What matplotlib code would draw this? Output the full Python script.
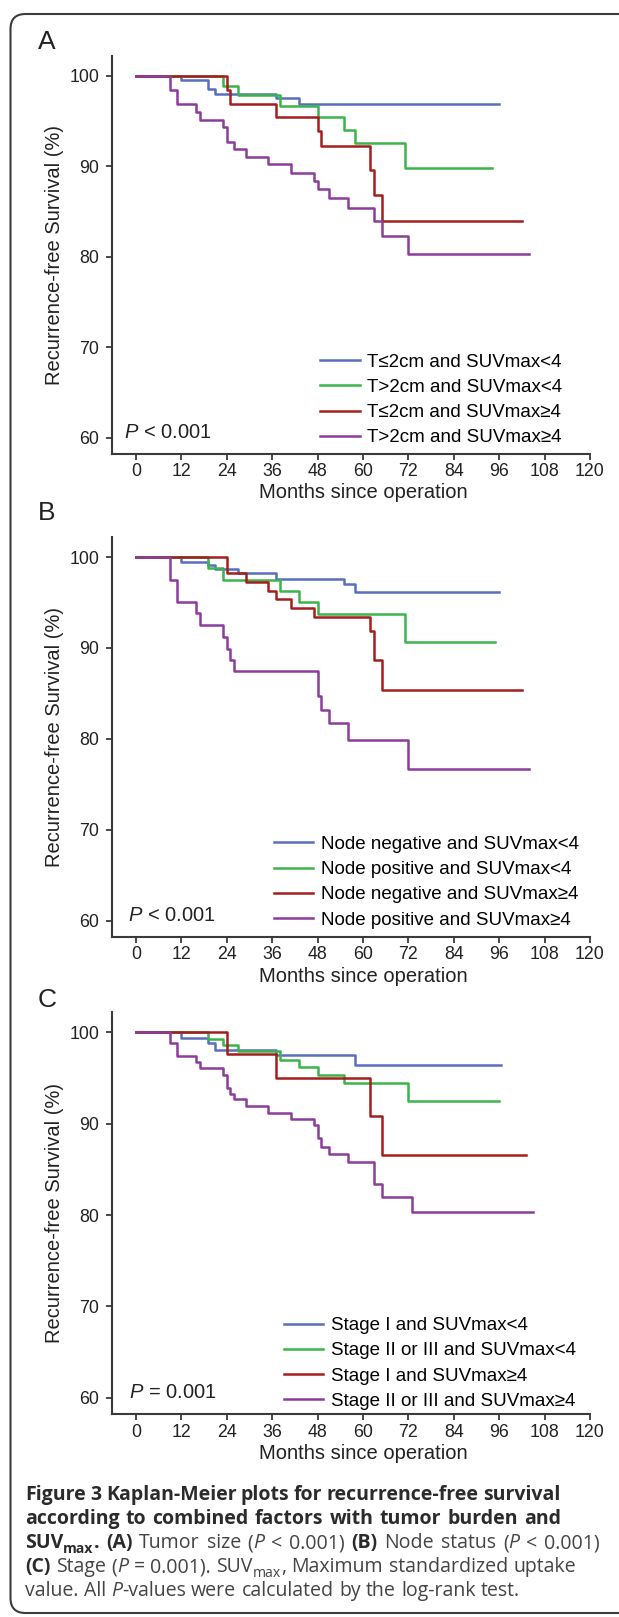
# Kaplan-Meier plots (Figure 3) - recurrence-free survival by combined factors
import re
import matplotlib
matplotlib.use("Agg")
import matplotlib.pyplot as plt
from matplotlib.patches import FancyBboxPatch

plt.rcParams['font.family'] = ['Liberation Sans', 'DejaVu Sans']
plt.rcParams['mathtext.fontset'] = 'custom'
plt.rcParams['mathtext.rm'] = 'Liberation Sans'
plt.rcParams['mathtext.it'] = 'Liberation Sans:italic'

# ---- data (months, survival %) ----
cores = ['#5A6EBE', '#3CB44B', '#A51E1E', '#8C3C9A']

# painel A: tumor size
a_labels = ['T≤2cm and SUVmax<4', 'T>2cm and SUVmax<4',
            'T≤2cm and SUVmax≥4', 'T>2cm and SUVmax≥4']
a_t = [[0, 12, 19, 21, 37, 43],
       [0, 23, 27, 38, 48, 55, 58, 71],
       [0, 24, 25, 37, 48, 49, 62, 63, 65],
       [0, 9, 11, 16, 17, 23, 24, 26, 29, 35, 41, 47, 48, 51, 56, 63, 65, 72]]
a_s = [[100, 99.5, 98.5, 98.0, 97.5, 96.9],
       [100, 98.9, 97.9, 96.7, 95.4, 94.0, 92.6, 89.8],
       [100, 98.4, 96.9, 95.4, 93.9, 92.2, 89.6, 86.8, 84.0],
       [100, 98.4, 96.9, 96.0, 95.1, 94.3, 92.7, 91.9, 91.0, 90.2, 89.3, 88.4, 87.5,
        86.5, 85.4, 83.9, 82.3, 80.3]]
a_fim = [96, 94, 102, 104]

# painel B: node status
b_labels = ['Node negative and SUVmax<4', 'Node positive and SUVmax<4',
            'Node negative and SUVmax≥4', 'Node positive and SUVmax≥4']
b_t = [[0, 12, 19, 21, 27, 37, 55, 58],
       [0, 19, 23, 38, 43, 48, 71],
       [0, 24, 29, 35, 37, 41, 47, 62, 63, 65],
       [0, 9, 11, 16, 17, 23, 24, 25, 26, 48, 49, 51, 56, 72]]
b_s = [[100, 99.5, 99.1, 98.7, 98.2, 97.6, 97.0, 96.2],
       [100, 98.8, 97.5, 96.3, 95.0, 93.7, 90.6],
       [100, 98.2, 97.3, 96.3, 95.4, 94.4, 93.4, 91.9, 88.7, 85.4],
       [100, 97.5, 95.0, 93.8, 92.5, 91.2, 89.9, 88.7, 87.5, 84.7, 83.2, 81.7, 79.9, 76.7]]
b_fim = [96, 95, 102, 104]

# painel C: stage
c_labels = ['Stage I and SUVmax<4', 'Stage II or III and SUVmax<4',
            'Stage I and SUVmax≥4', 'Stage II or III and SUVmax≥4']
c_t = [[0, 12, 19, 21, 37, 58],
       [0, 19, 23, 27, 38, 43, 48, 55, 72],
       [0, 24, 37, 62, 65],
       [0, 9, 11, 16, 17, 23, 24, 25, 26, 29, 35, 41, 47, 48, 49, 51, 56, 63, 65, 73]]
c_s = [[100, 99.4, 98.8, 98.1, 97.5, 96.4],
       [100, 99.3, 98.6, 97.9, 97.0, 96.2, 95.3, 94.4, 92.5],
       [100, 97.6, 95.0, 90.8, 86.6],
       [100, 98.8, 97.4, 96.8, 96.1, 95.3, 93.9, 93.3, 92.7, 91.9, 91.2, 90.5, 89.9,
        88.4, 87.5, 86.7, 85.8, 83.4, 82.0, 80.3]]
c_fim = [96.5, 96, 103, 105]

p_textos = ['$P$ < 0.001', '$P$ < 0.001', '$P$ = 0.001']
letras = ['A', 'B', 'C']

# ---- figure ----
W, H = 619, 1617
fig = plt.figure(figsize=(W / 100, H / 100), dpi=100)

# (top px, bottom px) of each axes box, legend anchor, P-text x
paineis = [
    (a_labels, a_t, a_s, a_fim, 55.8, 454.0, 0.436, 0.019, -3.0),
    (b_labels, b_t, b_s, b_fim, 537.0, 937.0, 0.339, 0.021, -2.0),
    (c_labels, c_t, c_s, c_fim, 1012.2, 1414.2, 0.360, 0.011, -1.8),
]
letra_y = [41.7, 513, 1000]
cor_eixo = '#3a3a3a'

for i, (labels, tt, ss, fim, topo, base, lx, ly, px) in enumerate(paineis):
    ax = fig.add_axes([112 / W, 1 - base / H, (590 - 112) / W, (base - topo) / H])
    for t, s, f, c, lab in zip(tt, ss, fim, cores, labels):
        ax.step(t + [f], s + [s[-1]], where='post', color=c, lw=1.8, label=lab)
    ax.set_xlim(-6.3, 120)
    ax.set_ylim(58.2, 102.2)
    ax.set_xticks(range(0, 121, 12))
    ax.set_yticks(range(60, 101, 10))
    for sp in ['top', 'right']:
        ax.spines[sp].set_visible(False)
    for sp in ['left', 'bottom']:
        ax.spines[sp].set_color(cor_eixo)
        ax.spines[sp].set_linewidth(1.5)
    ax.tick_params(direction='out', length=4.3, width=1.3, color=cor_eixo,
                   labelsize=12.8, labelcolor='#222222')
    ax.tick_params(axis='x', pad=2.5)
    ax.tick_params(axis='y', pad=5)
    ax.set_ylabel('Recurrence-free Survival (%)', fontsize=14.5, color='#222222')
    ax.yaxis.set_label_coords(-0.10, 0.5)
    ax.set_xlabel('Months since operation', fontsize=14.5, color='#222222')
    ax.xaxis.set_label_coords(0.525, -0.074)
    ax.text(px, 60.6, p_textos[i], fontsize=14.5, va='center', ha='left', color='#222222')
    ax.legend(loc='lower left', bbox_to_anchor=(lx, ly), frameon=False, fontsize=13.5,
              handlelength=2.1, handletextpad=0.4, labelspacing=0.43,
              borderpad=0, borderaxespad=0)
    fig.text(46.7 / W, 1 - letra_y[i] / H, letras[i], fontsize=19, ha='center',
             va='center', color='#222222')

# ---- moldura ----
moldura = FancyBboxPatch((0.105, 0.04), 7.0, 15.99, boxstyle='round,pad=0,rounding_size=0.15',
                         transform=fig.dpi_scale_trans, fill=False, ec='#3c3c3c', lw=1.5)
fig.patches.append(moldura)

# ---- legenda da figura (justificada) ----
legenda_linhas = [
    "{b:Figure 3 Kaplan-Meier plots for recurrence-free survival}",
    "{b:according to combined factors with tumor burden and}",
    "{b:SUV}{S:max}{b:.} {b:(A)} Tumor size ({i:P} < 0.001) {b:(B)} Node status ({i:P} < 0.001)",
    "{b:(C)} Stage ({i:P} = 0.001). SUV{s:max}, Maximum standardized uptake",
    "value. All {i:P}-values were calculated by the log-rank test.",
]
limite_dir = [560.7, 560.7, 600, 576, None]
x_ini = 25
y_base0 = 1500
passo = 24
largura_ultima = 495  # largura natural da ultima linha no original


def separar(linha):
    runs = []
    pos = 0
    for m in re.finditer(r'\{(\w):([^}]*)\}', linha):
        if m.start() > pos:
            runs.append((linha[pos:m.start()], 'n'))
        runs.append((m.group(2), m.group(1)))
        pos = m.end()
    if pos < len(linha):
        runs.append((linha[pos:], 'n'))
    palavras = [[]]
    for txt, st in runs:
        partes = txt.split(' ')
        for k, p in enumerate(partes):
            if k > 0:
                palavras.append([])
            if p:
                palavras[-1].append((p, st))
    return [w for w in palavras if w]


def estilo(st, fs):
    d = dict(fontfamily=['Open Sans', 'DejaVu Sans'], fontsize=fs,
             color='#2b2b2b' if st in ('b', 'S') else '#444444')
    if st in ('b', 'S'):
        d['fontweight'] = 'bold'
    if st == 'i':
        d['fontstyle'] = 'italic'
    if st in ('s', 'S'):
        d['fontsize'] = fs * 0.72
    return d


renderer = fig.canvas.get_renderer()


def medir_palavras(palavras, fs, yb):
    fs_px = fs * 100 / 72
    objs, larguras = [], []
    for w in palavras:
        pecas = []
        lw_ = 0
        for p, st in w:
            dy = -0.25 * fs_px if st in ('s', 'S') else 0
            t = fig.text(0, 1 - (yb - dy) / H, p, va='baseline', ha='left', **estilo(st, fs))
            pw = t.get_window_extent(renderer).width
            pecas.append((t, lw_))
            lw_ += pw
        objs.append(pecas)
        larguras.append(lw_)
    return objs, larguras


# tamanho da fonte: ajustado pela ultima linha (texto corrido, espacos normais)
ult = separar(legenda_linhas[-1])
objs, larg = medir_palavras(ult, 10, 0)
nat10 = sum(larg) + 0.27 * 10 * 100 / 72 * (len(ult) - 1)
for pecas in objs:
    for t, _ in pecas:
        t.remove()
fs_cap = 10 * largura_ultima / nat10
fs_px = fs_cap * 100 / 72

for n, linha in enumerate(legenda_linhas):
    yb = y_base0 + passo * n
    palavras = separar(linha)
    objs, larguras = medir_palavras(palavras, fs_cap, yb)
    if limite_dir[n] is not None and len(palavras) > 1:
        gap = (limite_dir[n] - x_ini - sum(larguras)) / (len(palavras) - 1)
        gap = max(gap, 0.15 * fs_px)
    else:
        gap = 0.27 * fs_px
    x = x_ini
    for pecas, lw_ in zip(objs, larguras):
        for t, off in pecas:
            t.set_x((x + off) / W)
        x += lw_ + gap

fig.savefig('out.png', dpi=100)
